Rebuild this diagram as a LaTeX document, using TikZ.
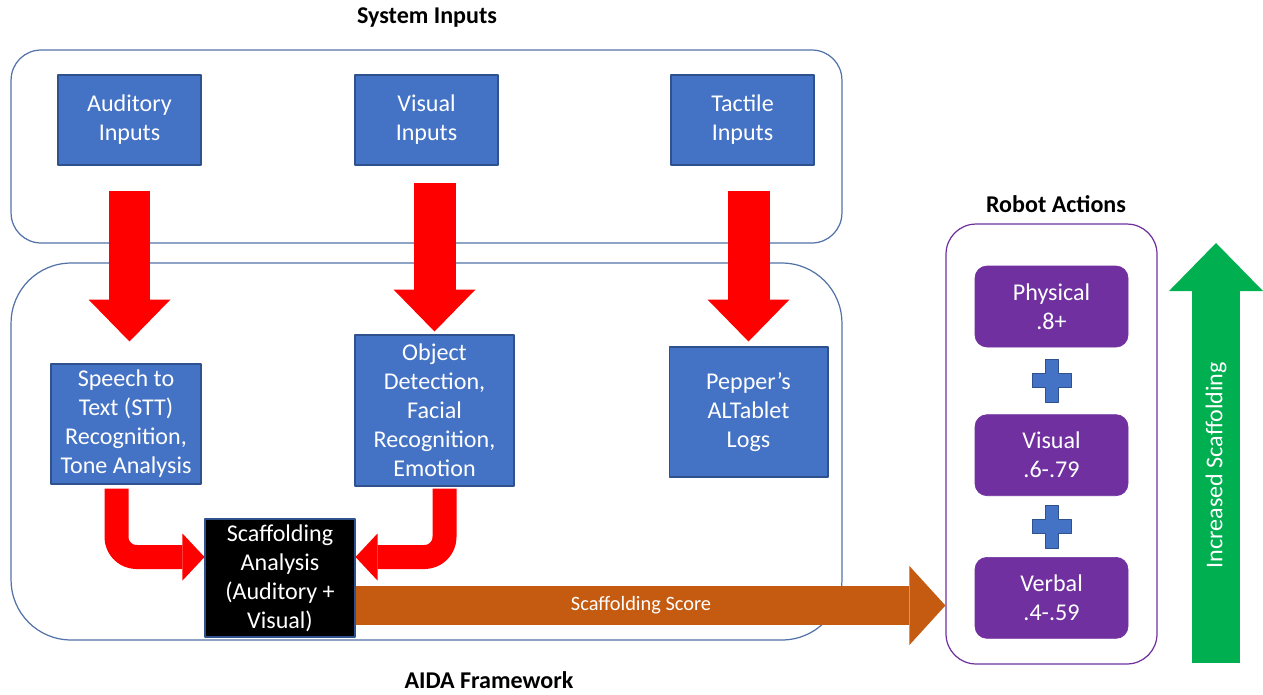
\documentclass[tikz,border=0pt]{standalone}
\usepackage{fontspec}
\setmainfont{Carlito}
\usepackage{tikz}
\usetikzlibrary{positioning, arrows.meta, calc}

\definecolor{boxblue}{HTML}{4472C4}
\definecolor{boxline}{HTML}{2F528F}
\definecolor{frameline}{HTML}{5272A8}
\definecolor{actpurple}{HTML}{7030A0}
\definecolor{scoreorange}{HTML}{C55A11}
\definecolor{upgreen}{HTML}{00B050}

\newcommand{\boxfont}{\fontsize{13.7}{16.5}\selectfont}

\begin{document}
\begin{tikzpicture}[x=0.02cm, y=-0.02cm, line join=round,
    frame/.style={draw=frameline, line width=0.7pt, rounded corners=#1},
    title/.style={font=\boxfont\bfseries},
    inbox/.style={draw=boxline, line width=0.6pt, fill=boxblue, text=white, align=center,
        inner sep=1pt, font=\boxfont, minimum width=2.86cm, minimum height=1.8cm},
    actbox/.style={draw=actpurple, fill=actpurple, text=white, align=center, rounded corners=0.24cm,
        inner sep=1pt, font=\boxfont, minimum width=3.06cm, minimum height=1.62cm},
    feed/.style={draw=red, line width=0.84cm, -{Triangle[length=0.84cm, width=1.64cm, line width=0pt]}},
    bentfeed/.style={draw=red, line width=0.48cm, rounded corners=0.4cm,
        -{Triangle[length=0.44cm, width=0.94cm, line width=0pt]}},
    score/.style={draw=scoreorange, line width=0.78cm, -{Triangle[length=0.72cm, width=1.58cm, line width=0pt]}},
    rise/.style={draw=upgreen, line width=0.96cm, -{Triangle[length=0.96cm, width=1.88cm, line width=0pt]}},
    plus/.style={draw=boxline, line width=0.5pt, fill=boxblue}]
    \useasboundingbox (0,0) rectangle (1263,694);

    % group frames and titles
    \node[frame=0.6cm, minimum width=16.62cm, minimum height=3.86cm] (inp) at (426.5,146.5) {};
    \node[frame=1.2cm, minimum width=16.62cm, minimum height=7.54cm] (aida) at (426.5,451.5) {};
    \node[frame=0.6cm, draw=actpurple, minimum width=4.22cm, minimum height=8.8cm] (act) at (1051.5,444) {};
    \node[title] (inptitle) at (427,17) {System Inputs};
    \node[title] (aidatitle) at (489,680) {AIDA Framework};
    \node[title] (acttitle) at (1056,204) {Robot Actions};

    % system inputs
    \node[inbox] (aud) at (129.5,120) {Auditory\\Inputs};
    \node[inbox] (vis) at (426.5,120) {Visual\\Inputs};
    \node[inbox] (tac) at (742.5,120) {Tactile\\Inputs};

    % processing
    \node[inbox, minimum width=3cm, minimum height=2.4cm] (stt) at (126,424)
        {Speech to\\Text (STT)\\Recognition,\\Tone Analysis};
    \node[inbox, minimum width=3.18cm, minimum height=3.02cm] (obj) at (434.5,410.5)
        {Object\\Detection,\\Facial\\Recognition,\\Emotion};
    \node[inbox, minimum width=3.18cm, minimum height=2.6cm] (pep) at (748.5,412)
        {Pepper’s\\ALTablet\\Logs};
    \node[inbox, fill=black, minimum width=3cm, minimum height=2.36cm] (sa) at (280,578)
        {Scaffolding\\Analysis\\(Auditory +\\Visual)};

    % robot actions
    \node[actbox] (phy) at (1051.5,306.5) {Physical\\.8+};
    \node[actbox, below=1.34cm of phy] (vsl) {Visual\\.6-.79};
    \node[actbox, below=1.22cm of vsl] (vrb) {Verbal\\.4-.59};

    % plus signs between actions
    \coordinate (plusa) at ($(phy.south)!0.5!(vsl.north)$);
    \coordinate (plusb) at ($(vsl.south)!0.5!(vrb.north)$);
    \foreach \p in {plusa, plusb}
        \draw[plus, shift={(\p)}] (-6.5,-21.5) -- (6.5,-21.5) -- (6.5,-7) -- (19.5,-7) -- (19.5,7)
            -- (6.5,7) -- (6.5,21.5) -- (-6.5,21.5) -- (-6.5,7) -- (-19.5,7) -- (-19.5,-7) -- (-6.5,-7) -- cycle;

    % inputs into processing
    \draw[feed, shorten <=0.5cm, shorten >=0.44cm] (aud.south) -- (aud.south |- stt.north);
    \draw[feed, shorten <=0.34cm, shorten >=0.06cm] (vis.south -| obj.north) -- (obj.north);
    \draw[feed, shorten <=0.5cm, shorten >=0.1cm] (tac.south -| pep.north) -- (pep.north);

    % into scaffolding analysis
    \draw[bentfeed, shorten <=0.08cm] ([xshift=-0.19cm]stt.south) |- ([yshift=0.42cm]sa.west);
    \draw[bentfeed, shorten <=0.04cm] ([xshift=0.2cm]obj.south) |- ([yshift=0.42cm]sa.east);

    % score to robot actions
    \coordinate (scorestart) at ([yshift=-0.55cm]sa.east);
    \draw[score] (scorestart) -- (scorestart -| act.west)
        node[pos=0.484, text=white, font=\fontsize{11.6}{13}\selectfont] {Scaffolding Score};

    % scaffolding level arrow
    \coordinate (upfoot) at (1216,663);
    \coordinate (uptip) at (1216,243);
    \draw[rise] (upfoot) -- (uptip) node[pos=0.471, rotate=90, text=white, font=\boxfont] {Increased Scaffolding};
\end{tikzpicture}
\end{document}
